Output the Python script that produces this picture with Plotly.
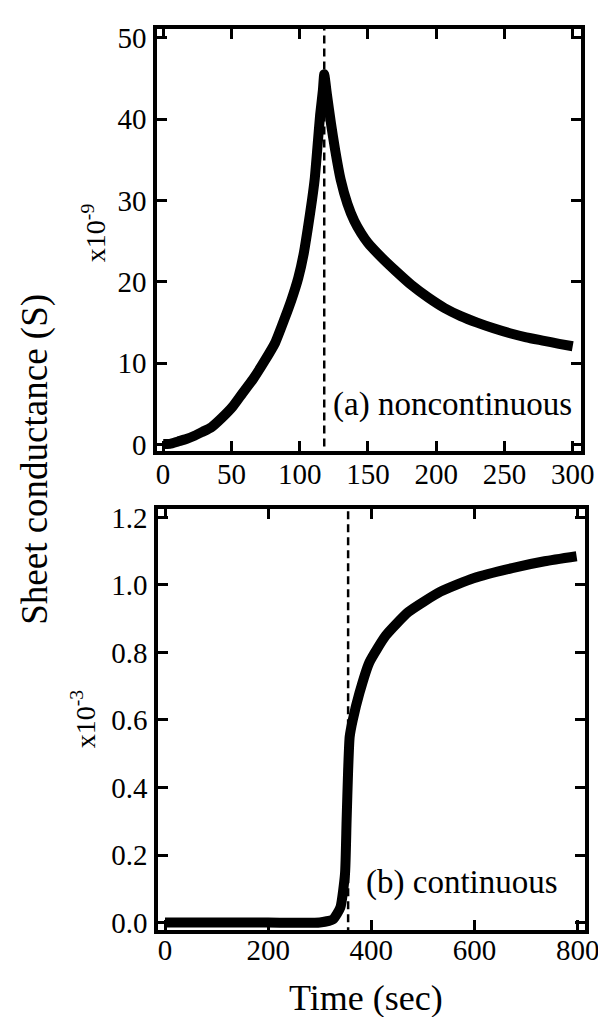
import plotly.graph_objects as go

# ---- data ----
# (a) noncontinuous film: time (s) and sheet conductance (x1e-9 S)
time_a = [0, 5, 11, 17, 23, 29, 35, 43, 51, 58, 66, 74, 82, 89, 94, 99, 103, 106, 109,
          111, 113, 115, 117, 118, 120, 123, 126, 130, 135, 140, 145, 150, 160, 170, 182,
          194, 206, 218, 230, 242, 254, 266, 278, 290, 300]
cond_a = [0.1, 0.1, 0.4, 0.7, 1.1, 1.6, 2.1, 3.3, 4.7, 6.3, 8.1, 10.2, 12.5, 15.5, 17.8,
          20.5, 23.5, 26.6, 30.0, 32.6, 36.5, 40.5, 43.5, 45.5, 43.0, 39.4, 36.2, 32.6,
          29.6, 27.5, 26.0, 24.8, 23.0, 21.4, 19.6, 18.1, 16.8, 15.8, 15.0, 14.3, 13.7,
          13.2, 12.8, 12.4, 12.1]
marker_time_a = 118

# (b) continuous film: time (s) and sheet conductance (x1e-3 S)
time_b = [0, 100, 200, 300, 326, 340, 349, 352, 355, 358, 364, 377, 396, 428, 472,
          534, 598, 673, 736, 798]
cond_b = [0.0, 0.0, 0.0, 0.0, 0.01, 0.045, 0.145, 0.30, 0.45, 0.55, 0.60, 0.68, 0.77,
          0.85, 0.92, 0.98, 1.02, 1.05, 1.07, 1.085]
marker_time_b = 355

ticks_xa = [0, 50, 100, 150, 200, 250, 300]
ticks_ya = [0, 10, 20, 30, 40, 50]
ticks_xb = [0, 200, 400, 600, 800]
ticks_yb = [0.0, 0.2, 0.4, 0.6, 0.8, 1.0, 1.2]

FONT = "Liberation Serif, Times New Roman, Times, DejaVu Serif, serif"
W, H = 606, 1017

fig = go.Figure()

fig.add_trace(go.Scatter(x=time_a, y=cond_a, mode="lines",
                         line=dict(color="black", width=10, shape="spline", smoothing=0.5),
                         xaxis="x", yaxis="y", showlegend=False))
fig.add_trace(go.Scatter(x=[marker_time_a, marker_time_a], y=[-5, 60], mode="lines",
                         line=dict(color="black", width=2.5, dash="8px,5px"),
                         xaxis="x", yaxis="y", showlegend=False))

fig.add_trace(go.Scatter(x=time_b, y=cond_b, mode="lines",
                         line=dict(color="black", width=10, shape="spline", smoothing=0.5),
                         xaxis="x2", yaxis="y2", showlegend=False))
fig.add_trace(go.Scatter(x=[marker_time_b, marker_time_b], y=[-1, 2], mode="lines",
                         line=dict(color="black", width=2.5, dash="8px,5px"),
                         xaxis="x2", yaxis="y2", showlegend=False))

axis_common = dict(showline=True, linecolor="black", linewidth=4, mirror="ticks",
                   ticks="inside", ticklen=10, tickwidth=2.5, tickcolor="black",
                   showgrid=False, zeroline=False,
                   tickfont=dict(family=FONT, size=29, color="black"))

fig.update_layout(
    width=W, height=H,
    margin=dict(l=0, r=0, t=0, b=0),
    paper_bgcolor="white", plot_bgcolor="white",
    font=dict(family=FONT, color="black"),
    xaxis=dict(axis_common, domain=[152 / W, 587 / W], range=[-4.3, 306.4],
               tickvals=ticks_xa, anchor="y", ticklabelstandoff=-5),
    yaxis=dict(axis_common, domain=[1 - 443 / H, 1 - 14 / H], range=[-0.72, 51.1],
               tickvals=ticks_ya, anchor="x", ticklabelstandoff=1),
    xaxis2=dict(axis_common, domain=[153 / W, 591 / W], range=[-13.2, 815],
                tickvals=ticks_xb, anchor="y2", ticklabelstandoff=-9),
    yaxis2=dict(axis_common, domain=[1 - 931 / H, 1 - 502 / H], range=[-0.0233, 1.226],
                tickvals=ticks_yb, tickformat=".1f", anchor="x2", ticklabelstandoff=1),
)

def ann(text, x, y, size, angle=0, xanchor="center"):
    fig.add_annotation(text=text, x=x / W, y=1 - y / H, xref="paper", yref="paper",
                       showarrow=False, textangle=angle, xanchor=xanchor, yanchor="middle",
                       font=dict(family=FONT, size=size, color="black"))

ann("Sheet conductance (S)", 27, 452, 37, angle=-90)
ann("Time (sec)", 366, 1000, 36)
ann("x10<sup>-9</sup>", 87, 222, 28, angle=-90)
ann("x10<sup>-3</sup>", 76, 716, 28, angle=-90)
ann("(a) noncontinuous", 579, 396, 33, xanchor="right")
ann("(b) continuous", 565, 882, 33, xanchor="right")

fig.write_html("out.html")
